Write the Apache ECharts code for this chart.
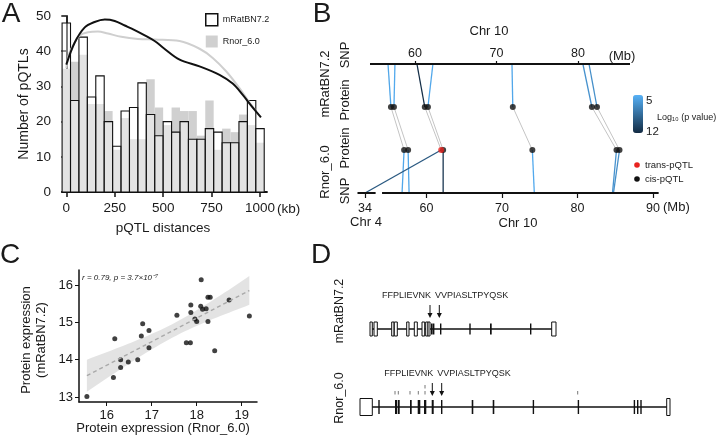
<!DOCTYPE html>
<html>
<head>
<meta charset="utf-8">
<script src="https://cdn.jsdelivr.net/npm/echarts@6/dist/echarts.min.js"></script>
<style>
  html, body { margin: 0; padding: 0; background: #fff; }
  #main { width: 720px; height: 441px; }
</style>
</head>
<body>
<div id="main"></div>
<script>
// ---------- A: pQTL distance histogram (24 bins over 0-1000 kb) ----------
const binWidthKb = 1000 / 23;
const mRatCounts = [48, 26, 44, 27, 33, 20, 13, 23, 24, 31, 22, 16, 20, 17, 20, 15, 15, 18, 17, 14, 14, 20, 26, 18];
const rnorCounts = [35, 37, 39, 25, 25, 23, 12, 21, 15, 15, 32, 24, 19, 24, 23, 23, 16, 26, 12, 18, 17, 22, 19, 14];
// density curves (scaled to counts)
const mRatDensKb = [0, 43, 94, 146, 199, 250, 302, 353, 405, 456, 500, 585, 688, 791, 859, 911, 945, 979, 1005];
const mRatDens = [36.2, 42.4, 46.7, 48.3, 49.0, 48.6, 47.3, 46.0, 44.5, 42.9, 41.0, 37.6, 35.7, 33.3, 30.8, 27.6, 25.2, 22.9, 21.2];
const rnorDensKb = [0, 16, 43, 69, 112, 163, 215, 284, 370, 456, 585, 688, 756, 825, 894, 936, 975];
const rnorDens = [35.2, 39.5, 42.4, 44.5, 45.4, 45.6, 45.0, 44.1, 43.5, 43.3, 42.9, 40.7, 38.1, 34.3, 29.5, 26.2, 23.3];
const distTicks = [0, 250, 500, 750, 1000];

// ---------- B: pQTL positions on chr 10 (Mb) ----------
const mRatSnpMb  = [56.69, 57.54, 60.24, 62.20, 71.90, 80.60, 81.35];
const mRatProtMb = [57.05, 57.42, 61.20, 61.59, 72.00, 81.70, 82.33];
const rnorProtMb = [57.04, 57.57, 61.95, 62.21, 74.02, 85.16, 85.56];
const rnorSnpMb  = [56.77, 57.70, 34.00, 62.21, 74.28, 84.63, 84.76];
const rnorSnpChr = [10, 10, 4, 10, 10, 10, 10];
const rnorType   = ['cis', 'cis', 'trans', 'cis', 'cis', 'cis', 'cis'];
const mRatLogP   = [5.6, 5.4, 11.8, 5.5, 5.5, 6.6, 6.8];
const rnorLogP   = [5.5, 5.6, 9.6, 11.5, 5.4, 6.6, 6.8];
const mRatChr10Span = [54.48, 86.38];
const rnorChr10Span = [54.12, 90.74];
const rnorChr4Span  = [33.0, 35.4];
const mRatMbTicks = [60, 70, 80];
const rnorMbTicks = [60, 70, 80, 90];
const chr4Tick = 34;

// ---------- C: protein expression ----------
const rnorExpr = [15.56, 16.15, 16.18, 16.31, 16.31, 16.48, 16.69, 16.77, 16.80, 16.94, 16.94, 17.56, 17.77, 17.86,
                  17.87, 17.87, 17.96, 18.00, 18.10, 18.09, 18.13, 18.21, 18.25, 18.25, 18.30, 18.40, 18.72, 19.17];
const mRatExpr = [13.01, 13.52, 14.56, 14.00, 13.79, 13.94, 14.00, 14.63, 14.96, 14.78, 14.32, 15.19, 14.45, 14.45,
                  15.26, 15.46, 15.09, 15.02, 16.14, 15.43, 15.35, 15.36, 15.02, 15.67, 15.67, 14.24, 15.60, 15.17];
const exprXTicks = [16, 17, 18, 19];
const exprYTicks = [13, 14, 15, 16];

// ---------- D: gene models (schematic units), row 1 = mRatBN7.2, row 0 = Rnor_6.0 ----------
const geneBackbone = [[1, 15, 201], [0, 5, 315]];
// [start, end, solid?]
const mRatExons = [[15, 17.3, 0], [19, 22.3, 0], [36.7, 39, 0], [39.3, 42.3, 0], [51.7, 54, 0], [59.3, 62.3, 0],
                   [67, 69.7, 0], [70.7, 73, 0], [73, 75, 0], [76, 77.7, 1], [78, 79, 1], [85, 86, 1],
                   [114.3, 115.7, 1], [135, 136.7, 1], [175, 176, 1], [196.7, 201, 0]];
const rnorExons = [[5, 17.3, 0], [23.3, 24.7, 1], [40, 42, 1], [42.7, 44.7, 1], [55, 56.7, 1], [62.7, 65.3, 1],
                   [69, 71.3, 1], [76.7, 78.7, 1], [86, 87.3, 1], [116.7, 118.3, 1], [137.7, 139.3, 1],
                   [177.7, 179, 1], [222.7, 224, 1], [278.7, 280, 1], [282, 283.3, 1], [285.3, 286.7, 1], [311.7, 315, 0]];
const rnorMarks = [[40, 1], [43.3, 1], [55, 1], [63.3, 1], [70, 1], [70, 2], [222.7, 1]];
const peptides = ['FFPLIEVNK', 'VVPIASLTPYQSK'];
const mRatPeptidePos = [75, 84.3];
const rnorPeptidePos = [77.3, 86.7];

const FONT = '"Liberation Sans", Arial, Helvetica, sans-serif';
const INK = '#1a1a1a';

// ---- B coordinate helpers: one grid, two chr-10 scales ----
const rnorAxis = [50.54, 90.92];
const mRatAxis = [52.64, 90.06];
const chr4Offset = 51.87 - chr4Tick;   // chr 4 drawn just left of chr 10
function mRatToR(mb) {
  return rnorAxis[0] + (mb - mRatAxis[0]) / (mRatAxis[1] - mRatAxis[0]) * (rnorAxis[1] - rnorAxis[0]);
}
function rnorSnpX(i) { return rnorSnpChr[i] === 4 ? rnorSnpMb[i] + chr4Offset : rnorSnpMb[i]; }

const colorSegs = [];
const greySegs = [];
mRatSnpMb.forEach((m, i) => {
  colorSegs.push([mRatToR(m), 3, mRatToR(mRatProtMb[i]), 2, mRatLogP[i]]);
  colorSegs.push([rnorProtMb[i], 1, rnorSnpX(i), 0, rnorLogP[i]]);
  greySegs.push([mRatToR(mRatProtMb[i]), 2, rnorProtMb[i], 1]);
});
const chromSegs = [
  [mRatToR(mRatChr10Span[0]), 3, mRatToR(mRatChr10Span[1]), 3],
  [rnorChr10Span[0], 0, rnorChr10Span[1], 0],
  [rnorChr4Span[0] + chr4Offset, 0, rnorChr4Span[1] + chr4Offset, 0]
];

function segRender(width, color) {
  return function (params, api) {
    const p1 = api.coord([api.value(0), api.value(1)]);
    const p2 = api.coord([api.value(2), api.value(3)]);
    return { type: 'line', shape: { x1: p1[0], y1: p1[1], x2: p2[0], y2: p2[1] },
      style: { stroke: color || api.visual('color'), lineWidth: width } };
  };
}

// histogram bar renderer: value(0) = bin centre, value(1) = count
function binRender(fill, stroke) {
  return function (params, api) {
    const tl = api.coord([api.value(0) - binWidthKb / 2, api.value(1)]);
    const br = api.coord([api.value(0) + binWidthKb / 2, 0]);
    return { type: 'rect', shape: { x: tl[0], y: tl[1], width: br[0] - tl[0], height: br[1] - tl[1] },
      style: { fill, stroke: stroke || null, lineWidth: stroke ? 1.1 : 0 } };
  };
}

// ---- C regression + 95% band ----
const n = rnorExpr.length;
const mx = rnorExpr.reduce((a, b) => a + b, 0) / n;
const my = mRatExpr.reduce((a, b) => a + b, 0) / n;
let sxx = 0, sxy = 0;
rnorExpr.forEach((x, i) => { sxx += (x - mx) ** 2; sxy += (x - mx) * (mRatExpr[i] - my); });
const slope = sxy / sxx, icpt = my - slope * mx;
let sse = 0;
rnorExpr.forEach((x, i) => { sse += (mRatExpr[i] - icpt - slope * x) ** 2; });
const sRes = Math.sqrt(sse / (n - 2));
const xLo = Math.min(...rnorExpr), xHi = Math.max(...rnorExpr);
const upper = [], lower = [];
for (let k = 0; k <= 40; k++) {
  const x = xLo + (xHi - xLo) * k / 40;
  const se = sRes * Math.sqrt(1 / n + (x - mx) ** 2 / sxx);
  upper.push([x, icpt + slope * x + 2.056 * se]);
  lower.push([x, icpt + slope * x - 2.056 * se]);
}
const bandPts = upper.concat(lower.reverse());

// ---- D renderers ----
function exonRender(row) {
  return function (params, api) {
    const a = api.coord([api.value(0), row]);
    const b = api.coord([api.value(1), row]);
    const solid = api.value(2) === 1;
    const h = row === 1 ? (solid ? 11 : 14) : (solid ? 14 : 17);
    const w = Math.max(b[0] - a[0], 1.4);
    return { type: 'rect', shape: { x: a[0], y: a[1] - h / 2, width: w, height: h },
      style: { fill: solid ? '#111' : '#fff', stroke: '#111', lineWidth: solid ? 0 : 1 } };
  };
}
function pepRender(row) {
  return function (params, api) {
    const p = api.coord([api.value(0), row]);
    const children = [
      { type: 'line', shape: { x1: p[0], y1: p[1] - 24, x2: p[0], y2: p[1] - 14 }, style: { stroke: '#111', lineWidth: 1 } },
      { type: 'polygon', shape: { points: [[p[0] - 2.5, p[1] - 16], [p[0] + 2.5, p[1] - 16], [p[0], p[1] - 11]] }, style: { fill: '#111' } }
    ];
    if (params.dataIndex === 0) {
      children.push({ type: 'text', x: p[0] + 1, y: p[1] - 33,
        style: { text: peptides[0], font: '9px ' + FONT, fill: INK, align: 'right', verticalAlign: 'middle' } });
      children.push({ type: 'text', x: p[0] + 5, y: p[1] - 33,
        style: { text: peptides[1], font: '9px ' + FONT, fill: INK, align: 'left', verticalAlign: 'middle' } });
    }
    return { type: 'group', children };
  };
}

function T(x, y, text, o) {
  o = o || {};
  return { type: 'text', x, y, rotation: o.rot || 0, z: 100,
    style: { text, fill: o.fill || INK, font: (o.italic ? 'italic ' : '') + (o.size || 13) + 'px ' + FONT,
      align: o.align || 'center', verticalAlign: 'middle', lineHeight: o.lh || 15 } };
}
const R90 = Math.PI / 2;

const option = {
  animation: false,
  textStyle: { fontFamily: FONT },
  grid: [
    { left: 62, top: 16, width: 205, height: 176 },
    { left: 355, top: 64, width: 305, height: 129 },
    { left: 79, top: 270, width: 178, height: 132 },
    { left: 355, top: 329, width: 320, height: 78 }
  ],
  xAxis: [
    { gridIndex: 0, type: 'value', min: -22.2, max: 1036.1, axisLine: { lineStyle: { color: '#111', width: 1.8 } },
      splitLine: { show: false },
      axisTick: { length: 5, lineStyle: { color: '#111', width: 1.5 }, customValues: distTicks },
      axisLabel: { customValues: distTicks, fontSize: 13.5, color: INK, margin: 9, formatter: v => String(v) } },
    { gridIndex: 1, type: 'value', position: 'bottom', min: rnorAxis[0], max: rnorAxis[1],
      axisLine: { show: false }, splitLine: { show: false },
      axisTick: { length: 5, lineStyle: { color: '#111', width: 1.2 }, customValues: [chr4Tick + chr4Offset].concat(rnorMbTicks) },
      axisLabel: { customValues: [chr4Tick + chr4Offset].concat(rnorMbTicks), fontSize: 12.5, color: INK, margin: 9,
        formatter: v => (v < 55 ? String(chr4Tick) : String(Math.round(v))) } },
    { gridIndex: 1, type: 'value', position: 'top', min: mRatAxis[0], max: mRatAxis[1],
      axisLine: { show: false }, splitLine: { show: false },
      axisTick: { length: 3, lineStyle: { color: '#111', width: 1.2 }, customValues: mRatMbTicks },
      axisLabel: { customValues: mRatMbTicks, fontSize: 12.5, color: INK, margin: 4 } },
    { gridIndex: 2, type: 'value', min: 15.385, max: 19.34, axisLine: { lineStyle: { color: '#111', width: 1.5 } },
      splitLine: { show: false },
      axisTick: { length: 4, lineStyle: { color: '#111' }, customValues: exprXTicks },
      axisLabel: { customValues: exprXTicks, fontSize: 13, color: INK, margin: 7 } },
    { gridIndex: 3, type: 'value', min: 0, max: 320, show: false }
  ],
  yAxis: [
    { gridIndex: 0, type: 'value', min: 0, max: 50, interval: 10, axisLine: { show: true, lineStyle: { color: '#111', width: 1.8 } },
      axisTick: { show: true, length: 5, lineStyle: { color: '#111', width: 1.5 } }, splitLine: { show: false },
      axisLabel: { fontSize: 13.5, color: INK, margin: 11 } },
    { gridIndex: 1, type: 'value', min: 0, max: 3, show: false },
    { gridIndex: 2, type: 'value', min: 12.866, max: 16.4, axisLine: { show: true, lineStyle: { color: '#111', width: 1.5 } },
      splitLine: { show: false },
      axisTick: { show: true, length: 4, lineStyle: { color: '#111' }, customValues: exprYTicks },
      axisLabel: { customValues: exprYTicks, fontSize: 13, color: INK, margin: 6 } },
    { gridIndex: 3, type: 'value', min: 0, max: 1, show: false }
  ],
  legend: {
    left: 205, top: 13, orient: 'vertical', itemWidth: 12, itemHeight: 12, itemGap: 9, padding: 0,
    textStyle: { fontSize: 9, color: INK }, selectedMode: false,
    data: [
      { name: 'mRatBN7.2', icon: 'rect', itemStyle: { color: '#fff', borderColor: '#111', borderWidth: 1.5 } },
      { name: 'Rnor_6.0', icon: 'rect', itemStyle: { color: '#d0d0d0', borderWidth: 0 } }
    ]
  },
  visualMap: {
    type: 'continuous', min: 5, max: 12, inverse: true, seriesIndex: 5, dimension: 4,
    inRange: { color: ['#56B1F7', '#132B43'] }, left: 633, top: 95, itemWidth: 10, itemHeight: 38,
    padding: 0, calculable: false, text: null, showLabel: false
  },
  series: [
    // 0-1 histogram
    { name: 'Rnor_6.0', type: 'custom', xAxisIndex: 0, yAxisIndex: 0, itemStyle: { color: '#d0d0d0' },
      renderItem: binRender('#d0d0d0'), data: rnorCounts.map((c, i) => [i * binWidthKb, c]), z: 1 },
    { name: 'mRatBN7.2', type: 'custom', xAxisIndex: 0, yAxisIndex: 0, itemStyle: { color: '#fff' },
      renderItem: binRender('rgba(255,255,255,0.4)', '#111'), data: mRatCounts.map((c, i) => [i * binWidthKb, c]), z: 2 },
    // 2-3 density curves
    { name: 'Rnor density', type: 'line', xAxisIndex: 0, yAxisIndex: 0, smooth: 0.35, showSymbol: false, z: 3,
      lineStyle: { color: '#cfcfcf', width: 2 }, data: rnorDensKb.map((x, i) => [x, rnorDens[i]]) },
    { name: 'mRat density', type: 'line', xAxisIndex: 0, yAxisIndex: 0, smooth: 0.35, showSymbol: false, z: 4,
      lineStyle: { color: '#111', width: 2 }, data: mRatDensKb.map((x, i) => [x, mRatDens[i]]) },
    // 4 grey protein-protein links
    { type: 'custom', xAxisIndex: 1, yAxisIndex: 1, renderItem: segRender(1, '#c4c4c4'), data: greySegs, z: 2 },
    // 5 SNP-protein links coloured by log10 p
    { type: 'custom', xAxisIndex: 1, yAxisIndex: 1, renderItem: segRender(1.3), data: colorSegs, z: 3 },
    // 6 chromosome lines
    { type: 'custom', xAxisIndex: 1, yAxisIndex: 1, renderItem: segRender(2, '#111'), data: chromSegs, z: 4 },
    // 7-8 protein points
    { type: 'scatter', xAxisIndex: 1, yAxisIndex: 1, symbolSize: 6, itemStyle: { color: '#111' }, z: 5,
      data: mRatProtMb.map(m => [mRatToR(m), 2]).concat(rnorProtMb.filter((m, i) => rnorType[i] === 'cis').map(m => [m, 1])) },
    { type: 'scatter', xAxisIndex: 1, yAxisIndex: 1, symbolSize: 6, itemStyle: { color: '#e8231f' }, z: 6,
      data: rnorProtMb.filter((m, i) => rnorType[i] === 'trans').map(m => [m, 1]) },
    // 9 CI band, 10 fit, 11 points
    { type: 'custom', xAxisIndex: 3, yAxisIndex: 2, data: [[xLo, icpt + slope * xLo]],
      renderItem: (params, api) => ({ type: 'polygon', shape: { points: bandPts.map(p => api.coord(p)) },
        style: { fill: 'rgba(0,0,0,0.11)' } }) },
    { type: 'line', xAxisIndex: 3, yAxisIndex: 2, showSymbol: false,
      lineStyle: { color: '#aaaaaa', width: 1.5, type: [4, 3] },
      data: [[xLo, icpt + slope * xLo], [xHi, icpt + slope * xHi]] },
    { type: 'scatter', xAxisIndex: 3, yAxisIndex: 2, symbolSize: 5, itemStyle: { color: '#111' },
      data: rnorExpr.map((x, i) => [x, mRatExpr[i]]) },
    // 12+ gene models
    { type: 'custom', xAxisIndex: 4, yAxisIndex: 3, data: geneBackbone,
      renderItem: (params, api) => {
        const a = api.coord([api.value(1), api.value(0)]), b = api.coord([api.value(2), api.value(0)]);
        return { type: 'line', shape: { x1: a[0], y1: a[1], x2: b[0], y2: b[1] }, style: { stroke: '#111', lineWidth: 1.6 } };
      } },
    { type: 'custom', xAxisIndex: 4, yAxisIndex: 3, data: mRatExons, renderItem: exonRender(1), z: 3 },
    { type: 'custom', xAxisIndex: 4, yAxisIndex: 3, data: rnorExons, renderItem: exonRender(0), z: 3 },
    { type: 'custom', xAxisIndex: 4, yAxisIndex: 3, data: rnorMarks, z: 3,
      renderItem: (params, api) => {
        const p = api.coord([api.value(0), 0]);
        const off = api.value(1) === 2 ? 22 : 16;
        return { type: 'line', shape: { x1: p[0], y1: p[1] - off, x2: p[0], y2: p[1] - off + 3.5 }, style: { stroke: '#777', lineWidth: 1 } };
      } },
    { type: 'custom', xAxisIndex: 4, yAxisIndex: 3, data: mRatPeptidePos.map(v => [v]), renderItem: pepRender(1), z: 3 },
    { type: 'custom', xAxisIndex: 4, yAxisIndex: 3, data: rnorPeptidePos.map(v => [v]), renderItem: pepRender(0), z: 3 }
  ],
  graphic: [
    T(11, 14, 'A', { size: 28 }), T(322, 14, 'B', { size: 28 }),
    T(10, 255, 'C', { size: 28 }), T(321, 255, 'D', { size: 28 }),
    // A
    T(24, 104, 'Number of pQTLs', { rot: R90, size: 14 }),
    T(163, 228, 'pQTL distances', { size: 13.5 }),
    T(277, 209, '(kb)', { size: 13.5, align: 'left' }),
    // B
    T(489, 31, 'Chr 10', { size: 13 }),
    T(622, 56, '(Mb)', { size: 13 }),
    T(663, 207, '(Mb)', { size: 13, align: 'left' }),
    T(366, 222, 'Chr 4', { size: 13 }),
    T(518, 223, 'Chr 10', { size: 13 }),
    T(325, 84, 'mRatBN7.2', { rot: R90, size: 13 }),
    T(345, 55, 'SNP', { rot: R90, size: 13 }),
    T(345, 100, 'Protein', { rot: R90, size: 13 }),
    T(325, 172, 'Rnor_6.0', { rot: R90, size: 13 }),
    T(345, 148, 'Protein', { rot: R90, size: 13 }),
    T(345, 191, 'SNP', { rot: R90, size: 13 }),
    T(646, 101, '5', { size: 11.5, align: 'left' }),
    T(646, 132, '12', { size: 11.5, align: 'left' }),
    T(657, 118, 'Log\u2081\u2080 (p value)', { size: 9, align: 'left' }),
    { type: 'circle', shape: { cx: 637, cy: 165, r: 2.8 }, style: { fill: '#e8231f' } },
    { type: 'circle', shape: { cx: 637, cy: 179, r: 2.8 }, style: { fill: '#111' } },
    T(645, 165, 'trans-pQTL', { size: 9.5, align: 'left' }),
    T(645, 179, 'cis-pQTL', { size: 9.5, align: 'left' }),
    // C
    T(82, 278, 'r = 0.79, p = 3.7\u00d710\u207b\u2077', { size: 8, italic: true, align: 'left' }),
    T(163, 428, 'Protein expression (Rnor_6.0)', { size: 13 }),
    T(34, 340, 'Protein expression\n(mRatBN7.2)', { rot: R90, size: 13, lh: 15 }),
    // D
    T(340, 311, 'mRatBN7.2', { rot: R90, size: 12.5 }),
    T(340, 398, 'Rnor_6.0', { rot: R90, size: 12.5 })
  ]
};

const chart = echarts.init(document.getElementById('main'));
chart.setOption(option);
</script>
</body>
</html>
